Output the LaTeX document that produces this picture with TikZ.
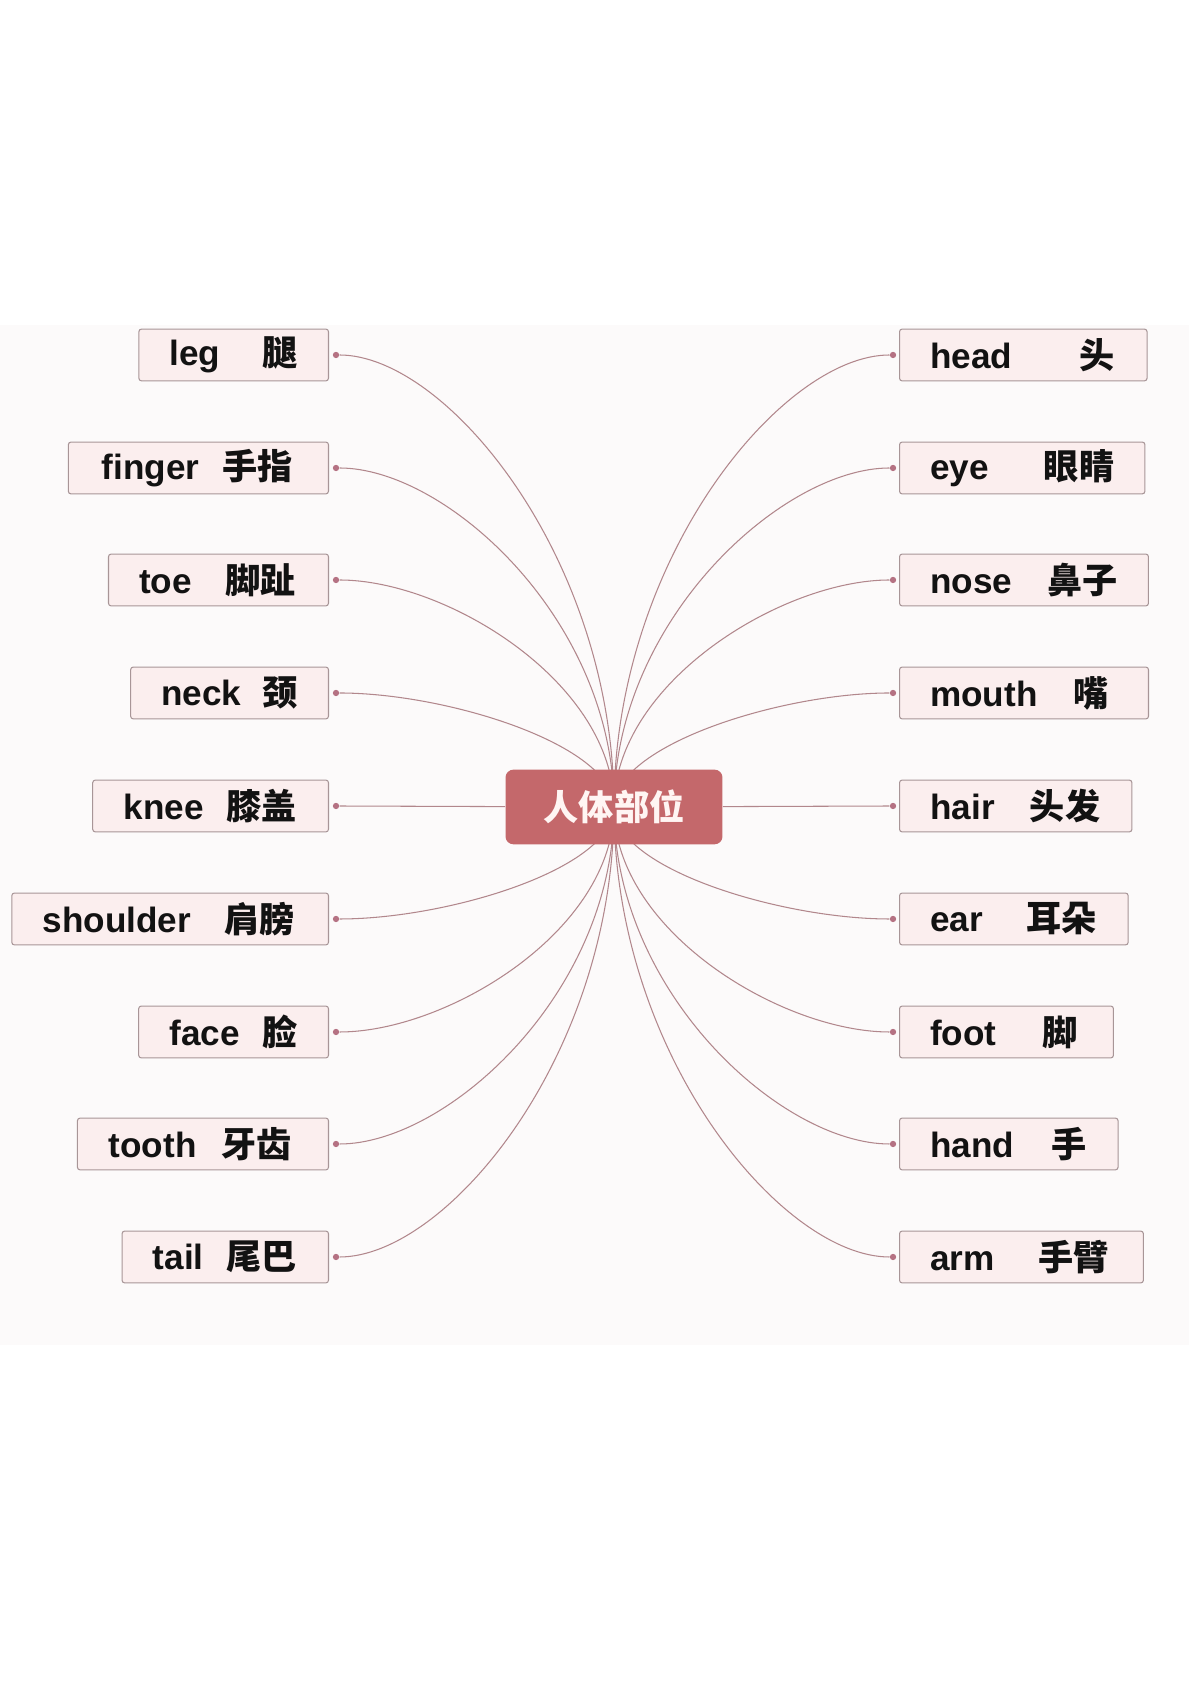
\documentclass[tikz,border=0pt]{standalone}
\usepackage{fontspec}
\setmainfont{Liberation Sans}
\newfontfamily\cjk{Noto Sans CJK SC}
\usetikzlibrary{backgrounds}
\definecolor{pagebg}{HTML}{FCFAFA}
\definecolor{boxfill}{HTML}{FBEEEE}
\definecolor{boxline}{HTML}{A89597}
\definecolor{hubfill}{HTML}{C4686B}
\definecolor{hubtext}{HTML}{FFF5F3}
\definecolor{linkcol}{HTML}{B2878C}
\definecolor{dotfill}{HTML}{B57283}
\begin{document}
\begin{tikzpicture}[x=0.02cm,y=0.02cm,
  leaf/.style={draw=boxline, fill=boxfill, rounded corners=1.5pt, line width=0.6pt,
    minimum height=29.5pt, inner xsep=17.5pt, inner ysep=2pt, text=black!93,
    font=\fontsize{20}{24}\selectfont\bfseries},
  hub/.style={fill=hubfill, text=hubtext, rounded corners=4.5pt, minimum width=123.5pt,
    minimum height=42.5pt, font=\cjk\fontsize{20}{24}\selectfont\bfseries},
  dotmark/.style={circle, fill=dotfill, inner sep=0pt, minimum size=3.6pt},
  link/.style={draw=linkcol, line width=0.6pt}]
\useasboundingbox (0,0) rectangle (1191,1684);
\begin{scope}[on background layer]
\fill[pagebg] (0,339) rectangle (1189,1359);
\end{scope}

\node[hub] (hub) at (614,877) {人体部位};

% left side
\node[leaf, anchor=east] (leg) at (329,1329) {leg\hspace{24pt}{\cjk 腿}};
\node[leaf, anchor=east] (finger) at (329,1216) {\hspace{1.5pt}finger\hspace{13pt}{\cjk 手指}\kern3pt};
\node[leaf, anchor=east] (toe) at (329,1104) {toe\hspace{19pt}{\cjk 脚趾}\kern1.2pt};
\node[leaf, anchor=east] (neck) at (329,991) {neck\hspace{12pt}{\cjk 颈}};
\node[leaf, anchor=east] (knee) at (329,878) {knee\hspace{13pt}{\cjk 膝盖}\kern0.6pt};
\node[leaf, anchor=east] (shoulder) at (329,765) {shoulder\hspace{19pt}{\cjk 肩膀}\kern1.8pt};
\node[leaf, anchor=east] (face) at (329,652) {face\hspace{13pt}{\cjk 脸}};
\node[leaf, anchor=east] (tooth) at (329,540) {\hspace{0.3pt}tooth\hspace{14pt}{\cjk 牙齿}\kern3.6pt};
\node[leaf, anchor=east] (tail) at (329,427) {tail\hspace{13pt}{\cjk 尾巴}\kern0.6pt};

% right side
\node[leaf, anchor=west] (head) at (899,1329) {head\hspace{38pt}{\cjk 头}\kern1.2pt};
\node[leaf, anchor=west] (eye) at (899,1216) {eye\hspace{31.3pt}{\cjk 眼睛}};
\node[leaf, anchor=west] (nose) at (899,1104) {nose\hspace{20pt}{\cjk 鼻子}};
\node[leaf, anchor=west] (mouth) at (899,991) {mouth\hspace{20.6pt}{\cjk 嘴}\kern5pt};
\node[leaf, anchor=west] (hair) at (899,878) {hair\hspace{20pt}{\cjk 头发}\kern0.6pt};
\node[leaf, anchor=west] (ear) at (899,765) {ear\hspace{24.5pt}{\cjk 耳朵}\kern0.6pt};
\node[leaf, anchor=west] (foot) at (899,652) {foot\hspace{26pt}{\cjk 脚}\kern3pt};
\node[leaf, anchor=west] (hand) at (899,540) {hand\hspace{21pt}{\cjk 手}\kern0.6pt};
\node[leaf, anchor=west] (arm) at (899,427) {arm\hspace{24.7pt}{\cjk 手臂}\kern2.4pt};

% dots
\node[dotmark] (legdot) at (336,1329) {};
\node[dotmark] (fingerdot) at (336,1216) {};
\node[dotmark] (toedot) at (336,1104) {};
\node[dotmark] (neckdot) at (336,991) {};
\node[dotmark] (kneedot) at (336,878) {};
\node[dotmark] (shoulderdot) at (336,765) {};
\node[dotmark] (facedot) at (336,652) {};
\node[dotmark] (toothdot) at (336,540) {};
\node[dotmark] (taildot) at (336,427) {};
\node[dotmark] (headdot) at (893,1329) {};
\node[dotmark] (eyedot) at (893,1216) {};
\node[dotmark] (nosedot) at (893,1104) {};
\node[dotmark] (mouthdot) at (893,991) {};
\node[dotmark] (hairdot) at (893,878) {};
\node[dotmark] (eardot) at (893,765) {};
\node[dotmark] (footdot) at (893,652) {};
\node[dotmark] (handdot) at (893,540) {};
\node[dotmark] (armdot) at (893,427) {};

\begin{scope}[on background layer]
\path[link] (legdot) .. controls +(111,0) and +(0,248) .. (hub.center);
\path[link] (fingerdot) .. controls +(111,0) and +(0,186) .. (hub.center);
\path[link] (toedot) .. controls +(111,0) and +(0,124) .. (hub.center);
\path[link] (neckdot) .. controls +(111,0) and +(0,62) .. (hub.center);
\path[link] (kneedot) -- (hub);
\path[link] (shoulderdot) .. controls +(111,0) and +(0,-62) .. (hub.center);
\path[link] (facedot) .. controls +(111,0) and +(0,-124) .. (hub.center);
\path[link] (toothdot) .. controls +(111,0) and +(0,-186) .. (hub.center);
\path[link] (taildot) .. controls +(111,0) and +(0,-248) .. (hub.center);

\path[link] (headdot) .. controls +(-111,0) and +(0,248) .. (hub.center);
\path[link] (eyedot) .. controls +(-111,0) and +(0,186) .. (hub.center);
\path[link] (nosedot) .. controls +(-111,0) and +(0,124) .. (hub.center);
\path[link] (mouthdot) .. controls +(-111,0) and +(0,62) .. (hub.center);
\path[link] (hairdot) -- (hub);
\path[link] (eardot) .. controls +(-111,0) and +(0,-62) .. (hub.center);
\path[link] (footdot) .. controls +(-111,0) and +(0,-124) .. (hub.center);
\path[link] (handdot) .. controls +(-111,0) and +(0,-186) .. (hub.center);
\path[link] (armdot) .. controls +(-111,0) and +(0,-248) .. (hub.center);
\end{scope}
\end{tikzpicture}
\end{document}
